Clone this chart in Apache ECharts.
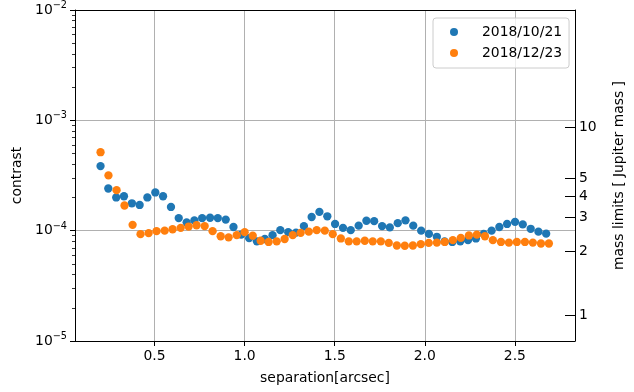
<!DOCTYPE html>
<html><head><meta charset="utf-8">
<script src="https://cdn.jsdelivr.net/npm/echarts@6/dist/echarts.min.js"></script>
<style>html,body{margin:0;padding:0;background:#fff}#c{width:634px;height:392px}</style>
</head><body><div id="c"></div>
<script>
// ---- data ----
const labelA = '2018/10/21';
const labelB = '2018/12/23';

const sepA = [0.200,0.243,0.287,0.330,0.374,0.417,0.460,0.504,0.547,0.591,
  0.634,0.678,0.721,0.764,0.808,0.851,0.895,0.938,0.981,1.025,
  1.068,1.112,1.155,1.198,1.242,1.285,1.329,1.372,1.415,1.459,
  1.502,1.546,1.589,1.633,1.676,1.719,1.763,1.806,1.850,1.893,
  1.936,1.980,2.023,2.067,2.110,2.153,2.197,2.240,2.284,2.327,
  2.371,2.414,2.457,2.501,2.544,2.588,2.631,2.674];
const contrastA = [3.85e-4,2.41e-4,2.00e-4,2.05e-4,1.77e-4,1.71e-4,2.00e-4,2.22e-4,2.05e-4,1.64e-4,
  1.30e-4,1.19e-4,1.24e-4,1.30e-4,1.31e-4,1.30e-4,1.26e-4,1.08e-4,0.92e-4,0.855e-4,
  0.80e-4,0.84e-4,0.91e-4,1.01e-4,0.97e-4,0.96e-4,1.10e-4,1.33e-4,1.48e-4,1.35e-4,
  1.15e-4,1.06e-4,1.01e-4,1.11e-4,1.23e-4,1.22e-4,1.10e-4,1.07e-4,1.17e-4,1.24e-4,
  1.11e-4,1.00e-4,0.935e-4,0.88e-4,0.80e-4,0.79e-4,0.80e-4,0.82e-4,0.85e-4,0.935e-4,
  1.00e-4,1.08e-4,1.15e-4,1.20e-4,1.14e-4,1.04e-4,0.98e-4,0.94e-4];

const sepB = [0.200,0.244,0.289,0.333,0.378,0.422,0.467,0.511,0.556,0.600,
  0.645,0.689,0.733,0.778,0.822,0.867,0.911,0.956,1.000,1.045,
  1.089,1.133,1.178,1.222,1.267,1.311,1.356,1.400,1.445,1.489,
  1.534,1.578,1.622,1.667,1.711,1.756,1.800,1.845,1.889,1.934,
  1.978,2.022,2.067,2.111,2.156,2.200,2.245,2.289,2.334,2.378,
  2.423,2.467,2.511,2.556,2.600,2.645,2.689];
const contrastB = [5.14e-4,3.17e-4,2.33e-4,1.69e-4,1.13e-4,0.93e-4,0.95e-4,0.99e-4,1.00e-4,1.03e-4,
  1.06e-4,1.09e-4,1.12e-4,1.10e-4,0.99e-4,0.89e-4,0.87e-4,0.91e-4,0.97e-4,0.90e-4,
  0.81e-4,0.79e-4,0.80e-4,0.84e-4,0.91e-4,0.955e-4,0.98e-4,1.01e-4,1.00e-4,0.93e-4,
  0.85e-4,0.80e-4,0.80e-4,0.81e-4,0.80e-4,0.80e-4,0.775e-4,0.734e-4,0.73e-4,0.734e-4,
  0.755e-4,0.775e-4,0.78e-4,0.79e-4,0.82e-4,0.86e-4,0.905e-4,0.92e-4,0.89e-4,0.82e-4,
  0.79e-4,0.78e-4,0.79e-4,0.79e-4,0.78e-4,0.765e-4,0.765e-4];

const xTicks = [0.5, 1.0, 1.5, 2.0, 2.5];
const massTicks = [1, 2, 3, 4, 5, 10];
// where each mass tick sits, expressed as log10(contrast)
const massTickLogContrast = [-4.766, -4.190, -3.882, -3.687, -3.524, -3.066];

// ---- chart ----
const FONT = 'DejaVu Sans';
const FS = 13.9;
const BLACK = '#000000';
const GRID = '#b0b0b0';

const minorTickVals = [];
for (let d = -5; d < -2; d++) for (let m = 2; m <= 9; m++) minorTickVals.push(d + Math.log10(m));

const chart = echarts.init(document.getElementById('c'), null, {renderer: 'canvas'});
chart.setOption({
  animation: false,
  backgroundColor: '#ffffff',
  textStyle: {fontFamily: FONT},
  grid: {left: 75, right: 50, top: 10, bottom: 51, containLabel: false},
  legend: {
    orient: 'vertical', left: 433, top: 18,
    itemWidth: 10, itemHeight: 8, itemGap: 5,
    padding: [6, 7, 7, 17],
    backgroundColor: 'rgba(255,255,255,0.8)',
    borderColor: '#cccccc', borderWidth: 1, borderRadius: 3,
    textStyle: {fontFamily: FONT, fontSize: FS, color: BLACK, padding: [0, 0, 0, 18], lineHeight: 16},
    data: [{name: labelA, icon: 'circle'}, {name: labelB, icon: 'circle'}]
  },
  xAxis: [{
    type: 'value', min: 0.0582, max: 2.834, position: 'bottom',
    name: 'separation[arcsec]', nameLocation: 'middle', nameGap: 30,
    nameTextStyle: {fontFamily: FONT, fontSize: FS, color: BLACK},
    axisLine: {show: true, onZero: false, lineStyle: {color: BLACK, width: 1}},
    axisTick: {show: true, length: 5, customValues: xTicks, lineStyle: {color: BLACK}},
    axisLabel: {customValues: xTicks, margin: 8, fontFamily: FONT, fontSize: FS, color: BLACK,
      formatter: v => Number(v).toFixed(1)},
    splitLine: {show: true, lineStyle: {color: GRID, width: 1}}
  }, {
    type: 'value', min: 0.0582, max: 2.834, position: 'top',
    axisLine: {show: true, onZero: false, lineStyle: {color: BLACK, width: 1}},
    axisTick: {show: false}, axisLabel: {show: false}, splitLine: {show: false}
  }],
  yAxis: [{
    type: 'log', logBase: 10, min: 1e-5, max: 1e-2, position: 'left',
    name: 'contrast', nameLocation: 'middle', nameGap: 51, nameRotate: 90,
    nameTextStyle: {fontFamily: FONT, fontSize: FS, color: BLACK},
    axisLine: {show: true, onZero: false, lineStyle: {color: BLACK, width: 1}},
    axisTick: {show: true, length: 5, lineStyle: {color: BLACK}},
    axisLabel: {margin: 8, color: BLACK,
      formatter: v => '{b|10}{s|\u2212' + (-Math.round(Math.log10(v))) + '}',
      rich: {
        b: {fontFamily: FONT, fontSize: FS, color: BLACK},
        s: {fontFamily: FONT, fontSize: 9.7, color: BLACK, padding: [0, 0, 9, 0]}
      }},
    splitLine: {show: true, lineStyle: {color: GRID, width: 1}}
  }, {
    type: 'value', min: -5, max: -2, position: 'right',
    name: 'mass limits [ Jupiter mass ]', nameLocation: 'middle', nameGap: 37, nameRotate: 90,
    nameTextStyle: {fontFamily: FONT, fontSize: FS, color: BLACK},
    axisLine: {show: true, onZero: false, lineStyle: {color: BLACK, width: 1}},
    axisTick: {show: true, inside: true, length: 10, customValues: massTickLogContrast, lineStyle: {color: BLACK}},
    axisLabel: {customValues: massTickLogContrast, margin: 4, fontFamily: FONT, fontSize: FS, color: BLACK,
      formatter: v => {
        let best = 0;
        for (let i = 0; i < massTickLogContrast.length; i++)
          if (Math.abs(massTickLogContrast[i] - v) < Math.abs(massTickLogContrast[best] - v)) best = i;
        return String(massTicks[best]);
      }},
    splitLine: {show: false}
  }, {
    type: 'value', min: -5, max: -2, position: 'left',
    axisLine: {show: false},
    axisTick: {show: true, length: 3, customValues: minorTickVals, lineStyle: {color: BLACK, width: 0.8}},
    axisLabel: {show: false}, splitLine: {show: false}
  }],
  series: [{
    name: labelA, type: 'scatter', xAxisIndex: 0, yAxisIndex: 0,
    symbol: 'circle', symbolSize: 8.3,
    itemStyle: {color: '#1f77b4', opacity: 1},
    data: sepA.map((x, i) => [x, contrastA[i]])
  }, {
    name: labelB, type: 'scatter', xAxisIndex: 0, yAxisIndex: 0,
    symbol: 'circle', symbolSize: 8.3,
    itemStyle: {color: '#ff7f0e', opacity: 1},
    data: sepB.map((x, i) => [x, contrastB[i]])
  }]
});
</script>
</body></html>
